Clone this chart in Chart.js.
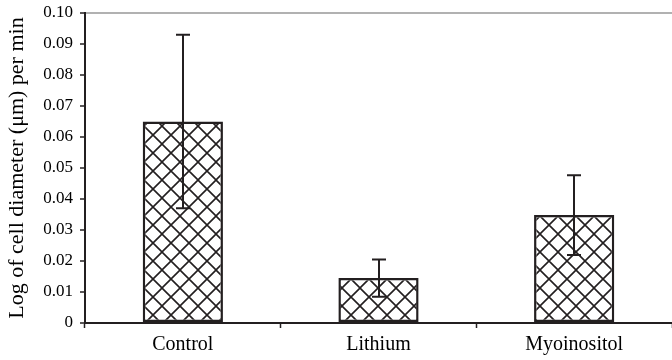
<!DOCTYPE html>
<html>
<head>
<meta charset="utf-8">
<script src="https://cdn.jsdelivr.net/npm/chart.js@4.4.1/dist/chart.umd.min.js"></script>
<style>
  html, body { margin: 0; padding: 0; background: #fff; }
  #wrap { width: 672px; height: 360px; }
</style>
</head>
<body>
<div id="wrap"><canvas id="c" width="672" height="360"></canvas></div>
<script>
// Treatment groups and measured growth rates
const categories = ['Control', 'Lithium', 'Myoinositol'];
const meanRate = [0.065, 0.0145, 0.0348];
const errorRate = [0.028, 0.006, 0.0129];
const yTicks = [0, 0.01, 0.02, 0.03, 0.04, 0.05, 0.06, 0.07, 0.08, 0.09, 0.10];

const INK = '#231f20';
const SERIF = '"Liberation Serif", "Times New Roman", serif';

// Diagonal cross-hatch fill for the bars
function hatchPattern() {
  const p = 18;
  const tile = document.createElement('canvas');
  tile.width = p; tile.height = p;
  const t = tile.getContext('2d');
  t.fillStyle = '#fff';
  t.fillRect(0, 0, p, p);
  t.strokeStyle = INK;
  t.lineWidth = 1.6;
  t.beginPath();
  t.moveTo(0, 0); t.lineTo(p, p);
  t.moveTo(p, 0); t.lineTo(0, p);
  t.stroke();
  return document.getElementById('c').getContext('2d').createPattern(tile, 'repeat');
}

// Error bars drawn over each bar from the dataset's error values
const errorBars = {
  id: 'errorBars',
  afterDatasetsDraw(chart) {
    const ctx = chart.ctx;
    const y = chart.scales.y;
    const meta = chart.getDatasetMeta(0);
    ctx.save();
    ctx.strokeStyle = INK;
    ctx.lineWidth = 2;
    meta.data.forEach((bar, i) => {
      const top = y.getPixelForValue(meanRate[i] + errorRate[i]);
      const bot = y.getPixelForValue(meanRate[i] - errorRate[i]);
      const x = Math.round(bar.x);
      const half = 7;
      ctx.beginPath();
      ctx.moveTo(x, top); ctx.lineTo(x, bot);
      ctx.moveTo(x - half, top); ctx.lineTo(x + half, top);
      ctx.moveTo(x - half, bot); ctx.lineTo(x + half, bot);
      ctx.stroke();
    });
    ctx.restore();
  }
};

new Chart(document.getElementById('c'), {
  type: 'bar',
  data: {
    labels: categories,
    datasets: [{
      data: meanRate,
      backgroundColor: hatchPattern(),
      borderColor: INK,
      borderWidth: 2.5,
      borderSkipped: false,
      categoryPercentage: 1,
      barPercentage: 0.41
    }]
  },
  options: {
    responsive: false,
    animation: false,
    devicePixelRatio: 1,
    layout: { padding: { top: 13, right: -4, left: 0, bottom: 0 } },
    plugins: { legend: { display: false }, tooltip: { enabled: false } },
    scales: {
      x: {
        offset: true,
        grid: {
          offset: true,
          drawOnChartArea: false,
          tickLength: 5,
          tickColor: INK,
          tickWidth: 1.5
        },
        border: { color: INK, width: 2 },
        ticks: { color: '#000', padding: 5, font: { family: SERIF, size: 20 } },
        afterFit(s) { s.height = 37; }
      },
      y: {
        min: 0,
        max: 0.1,
        afterBuildTicks(s) { s.ticks = yTicks.map(v => ({ value: v })); },
        grid: {
          color: c => (c.tick && Math.abs(c.tick.value - 0.1) < 1e-9) ? '#b1b1b1' : 'rgba(0,0,0,0)',
          lineWidth: 2,
          tickLength: 5,
          tickColor: INK,
          tickWidth: 1.5
        },
        border: { color: INK, width: 2 },
        ticks: {
          color: '#000',
          padding: 7,
          font: { family: SERIF, size: 17 },
          callback: v => v === 0 ? '0' : v.toFixed(2)
        },
        title: {
          display: true,
          text: 'Log of cell diameter (μm) per min',
          color: '#000',
          font: { family: SERIF, size: 22 },
          padding: { top: 4, bottom: 0 }
        },
        afterFit(s) {
          s.width = 85;
          s.paddingTop = 0;
          s.paddingBottom = 0;
        }
      }
    }
  },
  plugins: [errorBars]
});
</script>
</body>
</html>
